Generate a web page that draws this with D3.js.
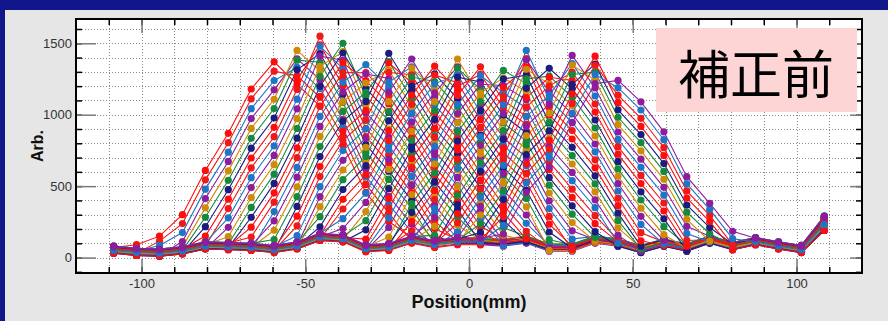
<!DOCTYPE html>
<html>
<head>
<meta charset="utf-8">
<script src="https://cdn.jsdelivr.net/npm/d3@7"></script>
<style>
  html, body { margin: 0; padding: 0; background: #11168a; }
  svg { display: block; }
</style>
</head>
<body>
<svg id="chart" width="888" height="321"></svg>
<script>
// Detector positions (mm)
const positions = [-108.5,-101.5,-94.5,-87.5,-80.5,-73.5,-66.5,-59.5,-52.5,-45.5,-38.5,-31.5,-24.5,-17.5,-10.5,-3.5,
                   3.5,10.5,17.5,24.5,31.5,38.5,45.5,52.5,59.5,66.5,73.5,80.5,87.5,94.5,101.5,108.5];

// Readings at each position, one entry per scan (scan 0 ... scan 59)
const col00 = [70,45,60,35,80,55,40,65,50,75, 30,60,70,45,55,75,35,65,50,80, 40,60,45,70,55,35,75,50,65,40, 80,55,45,70,30,60,75,50,40,65, 55,75,35,60,45,70,50,75,35,65, 55,40,80,45,60,70,30,65,50,75];
const col01 = [90,30,45,20,65,40,25,50,35,60, 15,45,55,30,40,60,20,50,35,65, 25,45,30,55,40,20,60,35,50,25, 65,40,30,55,15,45,60,35,25,50, 40,60,20,45,30,55,35,60,20,50, 40,25,65,30,45,55,15,50,35,60];
const col02 = [150,115,85,15,60,35,20,45,30,55, 10,40,50,25,35,55,15,45,30,60, 20,40,25,50,35,15,55,30,45,20, 60,35,25,50,10,40,55,30,20,45, 35,55,15,40,25,50,30,55,15,45, 35,20,60,25,40,50,10,45,30,55];
const col03 = [300,238,175,112,75,50,35,60,45,70, 25,55,65,40,50,70,30,60,45,75, 35,55,40,65,50,30,70,45,60,35, 75,50,40,65,25,55,70,45,35,60, 50,70,30,55,40,65,45,70,30,60, 50,35,75,40,55,65,25,60,45,70];
const col04 = [610,544,479,413,348,282,216,151,80,105, 60,90,100,75,85,105,65,95,80,110, 70,90,75,100,85,65,105,80,95,70, 110,85,75,100,60,90,105,80,70,95, 85,105,65,90,75,100,80,105,65,95, 85,70,110,75,90,100,60,95,80,105];
const col05 = [870,804,738,673,607,541,475,409,343,278, 212,146,95,70,80,100,60,90,75,105, 65,85,70,95,80,60,100,75,90,65, 105,80,70,95,55,85,100,75,65,90, 80,100,60,85,70,95,75,100,60,90, 80,65,105,70,85,95,55,90,75,100];
const col06 = [1180,1111,1042,973,904,835,766,697,628,559, 490,420,351,282,213,144,55,85,70,100, 60,80,65,90,75,55,95,70,85,60, 100,75,65,90,50,80,95,70,60,85, 75,95,55,80,65,90,70,95,55,85, 75,60,100,65,80,90,50,85,70,95];
const col07 = [1370,1305,1239,1174,1108,1043,977,912,846,781, 715,650,584,519,453,388,322,257,191,126, 45,65,50,75,60,40,80,55,70,45, 85,60,50,75,35,65,80,55,45,70, 60,80,40,65,50,75,55,80,40,70, 60,45,85,50,65,75,35,70,55,80];
const col08 = [1213,1272,1331,1391,1450,1382,1314,1245,1177,1109, 1041,972,904,836,768,699,631,563,495,426, 358,290,222,153,85,65,105,80,95,70, 110,85,75,100,60,90,105,80,70,95, 85,105,65,90,75,100,80,105,65,95, 85,70,110,75,90,100,60,95,80,105];
const col09 = [1061,1122,1183,1245,1306,1367,1428,1489,1550,1480, 1410,1339,1269,1199,1129,1058,988,918,848,777, 707,637,567,496,426,356,286,215,155,130, 170,145,135,160,120,150,165,140,130,155, 145,165,125,150,135,160,140,165,125,155, 145,130,170,135,150,160,120,155,140,165];
const col10 = [788,847,907,966,1025,1085,1144,1203,1263,1322, 1381,1441,1500,1432,1364,1295,1227,1159,1091,1022, 954,886,818,749,681,613,545,476,408,340, 272,203,125,150,110,140,155,130,120,145, 135,155,115,140,125,150,130,155,115,145, 135,120,160,125,140,150,110,145,130,155];
const col11 = [456,512,568,624,680,735,791,847,903,959, 1015,1071,1127,1182,1238,1294,1350,1286,1222,1157, 1093,1029,965,900,836,772,708,643,579,515, 451,386,322,258,194,129,85,60,50,75, 65,85,45,70,55,80,60,85,45,75, 65,50,90,55,70,80,40,75,60,85];
const col12 = [252,311,370,429,487,546,605,664,723,782, 841,900,959,1018,1077,1135,1194,1253,1312,1371, 1430,1362,1295,1227,1159,1091,1024,956,888,820, 753,685,617,549,482,414,346,278,211,143, 75,95,55,80,65,90,70,95,55,85, 75,60,100,65,80,90,50,85,70,95];
const col13 = [140,115,180,235,290,345,400,455,510,565, 620,675,730,785,840,895,950,1005,1060,1115, 1170,1225,1280,1335,1390,1327,1264,1200,1137,1074, 1011,947,884,821,758,694,631,568,505,441, 378,315,252,188,115,140,120,145,105,135, 125,110,150,115,130,140,100,135,120,145];
const col14 = [110,85,100,75,120,95,149,203,257,312, 366,420,474,528,582,636,690,745,799,853, 907,961,1015,1069,1123,1178,1232,1286,1340,1278, 1216,1153,1091,1029,967,904,842,780,718,655, 593,531,469,406,344,282,220,157,75,105, 95,80,120,85,100,110,70,105,90,115];
const col15 = [130,105,120,95,140,115,100,125,110,135, 171,226,281,337,392,448,503,559,614,669, 725,780,836,891,947,1002,1057,1113,1168,1224, 1279,1335,1390,1326,1263,1199,1135,1071,1008,944, 880,816,753,689,625,561,498,434,370,306, 243,179,140,105,120,130,90,125,110,135];
const col16 = [130,105,120,95,140,115,100,125,110,135, 90,120,130,105,168,221,274,327,380,433, 486,539,592,645,699,752,805,858,911,964, 1017,1070,1123,1176,1229,1282,1335,1274,1213,1152, 1091,1030,969,908,847,786,725,664,603,542, 481,420,359,298,237,176,90,125,110,135];
const col17 = [120,95,110,85,130,105,90,115,100,125, 80,110,120,95,105,125,85,115,157,210, 262,315,367,419,472,524,577,629,681,734, 786,839,891,943,996,1048,1100,1153,1205,1258, 1310,1250,1190,1129,1069,1009,949,888,828,768, 708,647,587,527,467,406,346,286,226,165];
const col18 = [140,115,130,105,150,125,110,135,120,145, 100,130,140,115,125,145,105,135,120,150, 110,130,183,240,298,355,413,471,528,586, 643,701,759,816,874,932,989,1047,1104,1162, 1220,1277,1335,1392,1450,1384,1318,1251,1185,1119, 1053,986,920,854,788,721,655,589,523,456];
const col19 = [85,60,75,50,95,70,55,80,65,90, 45,75,85,60,70,90,50,80,65,95, 55,75,60,85,70,50,125,179,234,288, 343,397,452,507,561,616,670,725,779,834, 888,943,998,1052,1107,1161,1216,1270,1325,1262, 1200,1137,1074,1011,949,886,823,760,698,635];
const col20 = [85,60,75,50,95,70,55,80,65,90, 45,75,85,60,70,90,50,80,65,95, 55,75,60,85,70,50,90,65,80,55, 129,187,245,304,362,421,479,538,596,655, 713,772,830,889,947,1006,1064,1123,1181,1240, 1298,1357,1415,1348,1281,1213,1146,1079,1012,944];
const col21 = [140,115,130,105,150,125,110,135,120,145, 100,130,140,115,125,145,105,135,120,150, 110,130,115,140,125,105,145,120,135,110, 150,125,115,140,181,237,293,349,404,460, 516,572,628,684,740,795,851,907,963,1019, 1075,1131,1187,1242,1298,1354,1410,1346,1282,1217];
const col22 = [120,95,110,85,130,105,90,115,100,125, 80,110,120,95,105,125,85,115,100,130, 90,110,95,120,105,85,125,100,115,90, 130,105,95,120,80,110,125,100,157,208, 260,311,363,415,466,518,569,621,673,724, 776,827,879,931,982,1034,1086,1137,1189,1240];
const col23 = [75,50,65,40,85,60,45,70,55,80, 35,65,75,50,60,80,40,70,55,85, 45,65,50,75,60,40,80,55,70,45, 85,60,50,75,35,65,80,55,45,70, 60,80,117,174,232,289,346,403,460,518, 575,632,689,747,804,861,918,975,1033,1090];
const col24 = [120,95,110,85,130,105,90,115,100,125, 80,110,120,95,105,125,85,115,100,130, 90,110,95,120,105,85,125,100,115,90, 130,105,95,120,80,110,125,100,90,115, 105,125,85,110,95,120,160,216,271,326, 382,437,492,548,603,658,714,769,825,880];
const col25 = [85,60,75,50,95,70,55,80,65,90, 45,75,85,60,70,90,50,80,65,95, 55,75,60,85,70,50,90,65,80,55, 95,70,60,85,45,75,90,65,55,80, 70,90,50,75,60,85,65,90,50,80, 120,169,219,268,318,368,417,467,516,566];
const col26 = [140,115,130,105,150,125,110,135,120,145, 100,130,140,115,125,145,105,135,120,150, 110,130,115,140,125,105,145,120,135,110, 150,125,115,140,100,130,145,120,110,135, 125,145,105,130,115,140,120,145,105,135, 125,110,150,115,167,210,252,295,337,380];
const col27 = [95,70,85,60,105,80,65,90,75,100, 55,85,95,70,80,100,60,90,75,105, 65,85,70,95,80,60,100,75,90,65, 105,80,70,95,55,85,100,75,65,90, 80,100,60,85,70,95,75,100,60,90, 80,65,105,70,85,95,55,90,132,184];
const col28 = [130,105,120,95,140,115,100,125,110,135, 90,120,130,105,115,135,95,125,110,140, 100,120,105,130,115,95,135,110,125,100, 140,115,105,130,90,120,135,110,100,125, 115,135,95,120,105,130,110,135,95,125, 115,100,140,105,120,130,90,125,110,135];
const col29 = [100,75,90,65,110,85,70,95,80,105, 60,90,100,75,85,105,65,95,80,110, 70,90,75,100,85,65,105,80,95,70, 110,85,75,100,60,90,105,80,70,95, 85,105,65,90,75,100,80,105,65,95, 85,70,110,75,90,100,60,95,80,105];
const col30 = [75,50,65,40,85,60,45,70,55,80, 35,65,75,50,60,80,40,70,55,85, 45,65,50,75,60,40,80,55,70,45, 85,60,50,75,35,65,80,55,45,70, 60,80,40,65,50,75,55,80,40,70, 60,45,85,50,65,75,35,70,55,80];
const col31 = [270,220,250,200,290,240,210,260,230,280, 190,250,270,220,240,280,200,260,230,290, 210,250,220,270,240,200,280,230,260,210, 290,240,220,270,190,250,280,230,210,260, 240,280,200,250,220,270,230,280,200,260, 240,210,290,220,250,270,190,260,230,280];

const stacks = [col00,col01,col02,col03,col04,col05,col06,col07,col08,col09,col10,col11,col12,col13,col14,col15,
                col16,col17,col18,col19,col20,col21,col22,col23,col24,col25,col26,col27,col28,col29,col30,col31];

// Scan colours, repeating
const palette = ["#ff0c0c", "#f01818", "#1f74c6", "#8e1d9e", "#cf8a06", "#17893d", "#1c1c7e"];

const xMajor = [-100, -50, 0, 50, 100];
const xMinor = [-110,-100,-90,-80,-70,-60,-50,-40,-30,-20,-10,0,10,20,30,40,50,60,70,80,90,100,110];
const yMajor = [0, 500, 1000, 1500];
const yMinor = [-100,0,100,200,300,400,500,600,700,800,900,1000,1100,1200,1300,1400,1500,1600];

const xTitle = "Position(mm)";
const yTitle = "Arb.";
const badgeText = "補正前";

const nScans = stacks[0].length;
stacks.forEach((c, j) => { if (c.length !== nScans) throw new Error("column " + j + " has " + c.length + " entries"); });

const W = 888, H = 321;
const plot = { left: 76, top: 19, right: 862, bottom: 273 };
const pw = plot.right - plot.left, ph = plot.bottom - plot.top;

const x = d3.scaleLinear().domain([-120, 120]).range([plot.left, plot.right]);
const y = d3.scaleLinear().domain([-108, 1670]).range([plot.bottom, plot.top]);

const svg = d3.select("#chart");
const tickFont = "'Liberation Sans', Arial, sans-serif";

// backdrop
svg.append("rect").attr("width", W).attr("height", H).attr("fill", "#11168a");
svg.append("rect").attr("x", 5).attr("y", 10).attr("width", W - 5).attr("height", H - 10).attr("fill", "#e6e6e6");
svg.append("rect").attr("x", plot.left).attr("y", plot.top).attr("width", pw).attr("height", ph).attr("fill", "#ffffff");

// dotted grid
const grid = svg.append("g").attr("stroke", "#8a8a8a").attr("stroke-width", 1).attr("stroke-dasharray", "1,2");
grid.selectAll("line.gx").data(xMinor).join("line").attr("class", "gx")
  .attr("x1", d => Math.round(x(d)) + 0.5).attr("x2", d => Math.round(x(d)) + 0.5)
  .attr("y1", plot.top).attr("y2", plot.bottom);
grid.selectAll("line.gy").data(yMinor).join("line").attr("class", "gy")
  .attr("y1", d => Math.round(y(d)) + 0.5).attr("y2", d => Math.round(y(d)) + 0.5)
  .attr("x1", plot.left).attr("x2", plot.right);

// scans
svg.append("clipPath").attr("id", "plotClip").append("rect")
  .attr("x", plot.left).attr("y", plot.top).attr("width", pw).attr("height", ph);
const dataG = svg.append("g").attr("clip-path", "url(#plotClip)");

const scans = d3.range(nScans).map(k => positions.map((p, j) => ({ p, v: stacks[j][k] })));

const line = d3.line().x(d => x(d.p)).y(d => y(d.v));
dataG.selectAll("path.scan").data(scans).join("path").attr("class", "scan")
  .attr("d", line).attr("fill", "none")
  .attr("stroke", (d, k) => palette[k % palette.length]).attr("stroke-width", 1.1);

scans.forEach((s, k) => {
  dataG.append("g").attr("fill", palette[k % palette.length])
    .selectAll("circle").data(s).join("circle")
    .attr("cx", d => x(d.p)).attr("cy", d => y(d.v)).attr("r", 3.6);
});

// axes: inward ticks on all four sides
const fmt = d => String(d);
function styleAxis(g, color, width) {
  g.select(".domain").remove();
  g.selectAll(".tick line").attr("stroke", color).attr("stroke-width", width);
  g.selectAll(".tick text").attr("fill", "#333").attr("font-family", tickFont).attr("font-size", 13);
}
const bottomMinor = svg.append("g").attr("transform", `translate(0,${plot.bottom})`)
  .call(d3.axisBottom(x).tickValues(xMinor).tickSize(-6).tickFormat(""));
styleAxis(bottomMinor, "#000", 1.5);
const bottomMajor = svg.append("g").attr("transform", `translate(0,${plot.bottom})`)
  .call(d3.axisBottom(x).tickValues(xMajor).tickSize(-14).tickPadding(6).tickFormat(fmt));
styleAxis(bottomMajor, "#7a7a7a", 1.5);

const topMinor = svg.append("g").attr("transform", `translate(0,${plot.top})`)
  .call(d3.axisTop(x).tickValues(xMinor).tickSize(-6).tickFormat(""));
styleAxis(topMinor, "#000", 1.5);
const topMajor = svg.append("g").attr("transform", `translate(0,${plot.top})`)
  .call(d3.axisTop(x).tickValues(xMajor).tickSize(-14).tickFormat(""));
styleAxis(topMajor, "#7a7a7a", 1.5);

const leftMinor = svg.append("g").attr("transform", `translate(${plot.left},0)`)
  .call(d3.axisLeft(y).tickValues(yMinor).tickSize(-6).tickFormat(""));
styleAxis(leftMinor, "#000", 1.5);
const leftMajor = svg.append("g").attr("transform", `translate(${plot.left},0)`)
  .call(d3.axisLeft(y).tickValues(yMajor).tickSize(-20).tickPadding(4).tickFormat(fmt));
styleAxis(leftMajor, "#7a7a7a", 1.5);

const rightMinor = svg.append("g").attr("transform", `translate(${plot.right},0)`)
  .call(d3.axisRight(y).tickValues(yMinor).tickSize(-6).tickFormat(""));
styleAxis(rightMinor, "#000", 1.5);
const rightMajor = svg.append("g").attr("transform", `translate(${plot.right},0)`)
  .call(d3.axisRight(y).tickValues(yMajor).tickSize(-12).tickFormat(""));
styleAxis(rightMajor, "#7a7a7a", 1.5);

// frame
svg.append("rect").attr("x", plot.left).attr("y", plot.top).attr("width", pw).attr("height", ph)
  .attr("fill", "none").attr("stroke", "#000").attr("stroke-width", 2);

// axis titles
svg.append("text").attr("x", x(0)).attr("y", 308).attr("text-anchor", "middle")
  .attr("font-family", "'Liberation Sans', Arial, sans-serif").attr("font-weight", "bold")
  .attr("font-size", 18).attr("fill", "#111").text(xTitle);
svg.append("text").attr("transform", `translate(43,${(plot.top + plot.bottom) / 2}) rotate(-90)`)
  .attr("text-anchor", "middle")
  .attr("font-family", "'Liberation Sans', Arial, sans-serif").attr("font-weight", "bold")
  .attr("font-size", 16).attr("fill", "#111").text(yTitle);

// label box
svg.append("rect").attr("x", 656).attr("y", 28).attr("width", 201).attr("height", 84).attr("fill", "#fdd5d5");
svg.append("text").attr("x", 756).attr("y", 71).attr("text-anchor", "middle").attr("dominant-baseline", "central")
  .attr("font-family", "'Noto Sans CJK JP', 'Noto Sans CJK SC', sans-serif")
  .attr("font-size", 52).attr("fill", "#000").text(badgeText);
</script>
</body>
</html>
